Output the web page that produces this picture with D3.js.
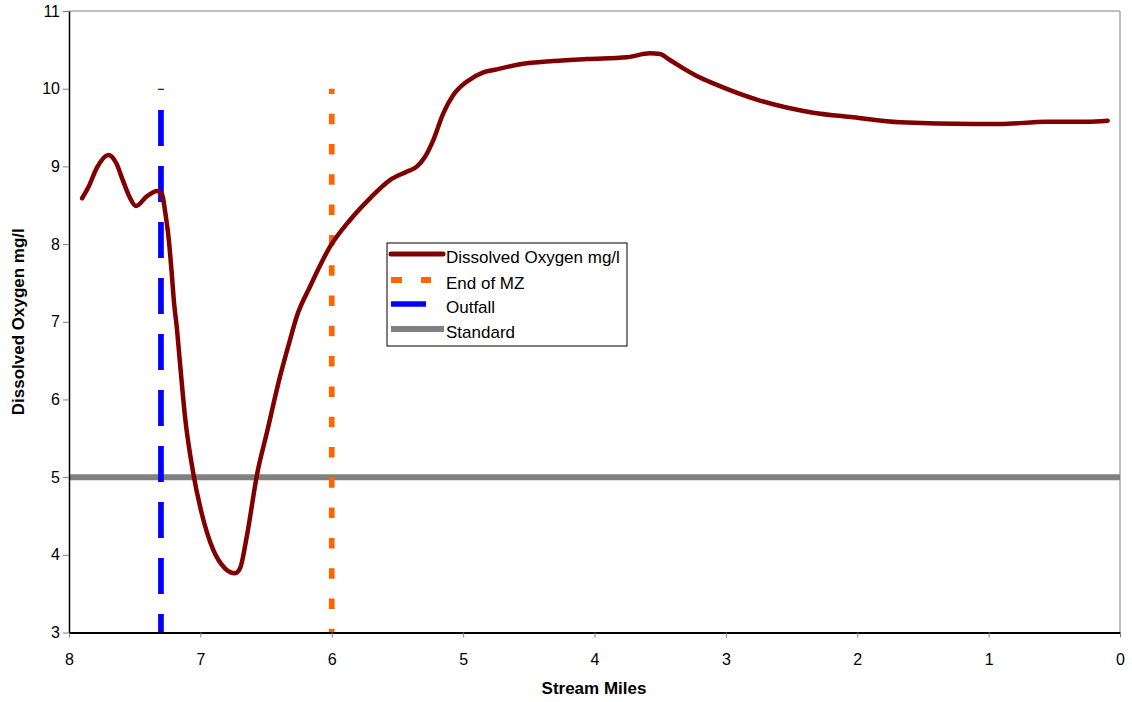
<!DOCTYPE html>
<html>
<head>
<meta charset="utf-8">
<script src="https://cdn.jsdelivr.net/npm/d3@7"></script>
<style>
  html, body { margin: 0; padding: 0; background: #fff; }
  svg { display: block; font-family: "Liberation Sans", Arial, sans-serif; }
</style>
</head>
<body>
<svg id="chart" width="1132" height="702"></svg>
<script>
// ---- Data ----
const streamMiles = [7.90, 7.85, 7.79, 7.70, 7.64, 7.59, 7.54, 7.49, 7.41, 7.33, 7.29, 7.27, 7.24, 7.22, 7.20, 7.18,
  7.155, 7.117, 7.054, 6.99, 6.902, 6.813, 6.736, 6.698, 6.647, 6.567, 6.495, 6.394, 6.318, 6.267, 6.166, 6.013,
  5.861, 5.709, 5.557, 5.43, 5.353, 5.29, 5.227, 5.151, 5.075, 4.973, 4.846, 4.744, 4.567, 4.314, 4.059, 3.755,
  3.578, 3.502, 3.426, 3.324, 3.21, 3.096, 2.753, 2.335, 2.03, 1.675, 1.117, 0.913, 0.558, 0.254, 0.094];
const dissolvedOxygen = [8.59, 8.74, 8.975, 9.146, 9.04, 8.82, 8.61, 8.49, 8.61, 8.683, 8.631, 8.438, 8.052, 7.666, 7.237, 6.936,
  6.465, 5.778, 5.049, 4.534, 4.062, 3.826, 3.762, 3.826, 4.233, 5.049, 5.564, 6.293, 6.765, 7.065, 7.451, 7.966,
  8.31, 8.589, 8.824, 8.931, 8.996, 9.124, 9.339, 9.683, 9.918, 10.09, 10.211, 10.249, 10.314, 10.356, 10.382, 10.404,
  10.455, 10.446, 10.369, 10.262, 10.154, 10.069, 9.854, 9.691, 9.631, 9.567, 9.545, 9.545, 9.575, 9.575, 9.588];

const outfallMile = 7.3;
const endOfMZMile = 6.0;
const verticalTop = 10;
const standardValue = 5;

const xTicks = [8, 7, 6, 5, 4, 3, 2, 1, 0];
const yTicks = [3, 4, 5, 6, 7, 8, 9, 10, 11];

const legendLabels = ["Dissolved Oxygen mg/l", "End of MZ", "Outfall", "Standard"];

// ---- Layout ----
const svg = d3.select("#chart");
const L = 69, R = 1120, T = 11, B = 632.5;

const x = d3.scaleLinear().domain([8, 0]).range([L, R]);
const y = d3.scaleLinear().domain([3, 11]).range([B, T]);

const colors = { dox: "#800000", mz: "#FF6600", outfall: "#0000FF", std: "#808080" };

// plot border (top/right gray)
svg.append("line").attr("x1", L).attr("x2", R).attr("y1", T).attr("y2", T)
  .attr("stroke", "#808080").attr("stroke-width", 1);
svg.append("line").attr("x1", R).attr("x2", R).attr("y1", T).attr("y2", B)
  .attr("stroke", "#808080").attr("stroke-width", 1);

// Standard line
svg.append("line")
  .attr("x1", x(8)).attr("x2", x(0))
  .attr("y1", y(standardValue)).attr("y2", y(standardValue))
  .attr("stroke", colors.std).attr("stroke-width", 6);

// Outfall
svg.append("line")
  .attr("x1", x(outfallMile)).attr("x2", x(outfallMile))
  .attr("y1", y(verticalTop)).attr("y2", y(3))
  .attr("stroke", colors.outfall).attr("stroke-width", 5.7)
  .attr("stroke-dasharray", "36 20").attr("stroke-dashoffset", 34.7);

// End of MZ
svg.append("line")
  .attr("x1", x(endOfMZMile)).attr("x2", x(endOfMZMile))
  .attr("y1", y(verticalTop)).attr("y2", y(3))
  .attr("stroke", colors.mz).attr("stroke-width", 5.7)
  .attr("stroke-dasharray", "10.5 19.8").attr("stroke-dashoffset", 5.3);

// DO curve
const line = d3.line()
  .x((d, i) => x(streamMiles[i]))
  .y((d, i) => y(dissolvedOxygen[i]))
  .curve(d3.curveMonotoneX);
svg.append("path")
  .attr("d", line(dissolvedOxygen))
  .attr("fill", "none")
  .attr("stroke", colors.dox).attr("stroke-width", 4.5)
  .attr("stroke-linejoin", "round").attr("stroke-linecap", "round");

// Axes
const xAxis = d3.axisBottom(x).tickValues(xTicks).tickSize(5).tickSizeOuter(0).tickFormat(d3.format("d"));
const gx = svg.append("g").attr("transform", `translate(0,${B})`).call(xAxis);
gx.select(".domain").attr("stroke", "#000").attr("stroke-width", 2);
gx.selectAll(".tick line").attr("stroke", "#808080").attr("stroke-width", 1);
gx.selectAll(".tick text").attr("font-size", 16).attr("fill", "#000")
  .attr("font-family", "Liberation Sans, Arial, sans-serif").attr("dy", "24.5px");

const yAxis = d3.axisLeft(y).tickValues(yTicks).tickSize(6).tickSizeOuter(0).tickFormat(d3.format("d"));
const gy = svg.append("g").attr("transform", `translate(${L},0)`).call(yAxis);
gy.select(".domain").attr("stroke", "#000").attr("stroke-width", 1.5);
gy.selectAll(".tick line").attr("stroke", "#808080").attr("stroke-width", 1);
gy.selectAll(".tick text").attr("font-size", 16).attr("fill", "#000")
  .attr("font-family", "Liberation Sans, Arial, sans-serif").attr("x", -9);

// Axis titles
svg.append("text").attr("x", 594).attr("y", 694)
  .attr("text-anchor", "middle").attr("font-weight", "bold").attr("font-size", 17)
  .text("Stream Miles");
svg.append("text").attr("transform", `translate(24,${(T + B) / 2}) rotate(-90)`)
  .attr("text-anchor", "middle").attr("font-weight", "bold").attr("font-size", 17)
  .text("Dissolved Oxygen mg/l");

// Legend
const lg = svg.append("g");
lg.append("rect").attr("x", 387).attr("y", 243).attr("width", 240).attr("height", 103)
  .attr("fill", "#fff").attr("stroke", "#000").attr("stroke-width", 1);
const rowsY = [254, 280, 304, 329];
const legendStyles = [
  { c: colors.dox, w: 5, dash: null, x2: 443, cap: "round" },
  { c: colors.mz, w: 6, dash: "11 19", x2: 431, cap: "butt" },
  { c: colors.outfall, w: 5.5, dash: null, x2: 426, cap: "butt" },
  { c: colors.std, w: 6, dash: null, x2: 444, cap: "butt" }
];
legendLabels.forEach((lab, i) => {
  const s = legendStyles[i];
  lg.append("line").attr("x1", 391).attr("x2", s.x2).attr("y1", rowsY[i]).attr("y2", rowsY[i])
    .attr("stroke", s.c).attr("stroke-width", s.w).attr("stroke-linecap", s.cap)
    .attr("stroke-dasharray", s.dash);
  lg.append("text").attr("x", 446).attr("y", rowsY[i] + 9)
    .attr("font-size", 17).attr("fill", "#000").text(lab);
});
</script>
</body>
</html>
